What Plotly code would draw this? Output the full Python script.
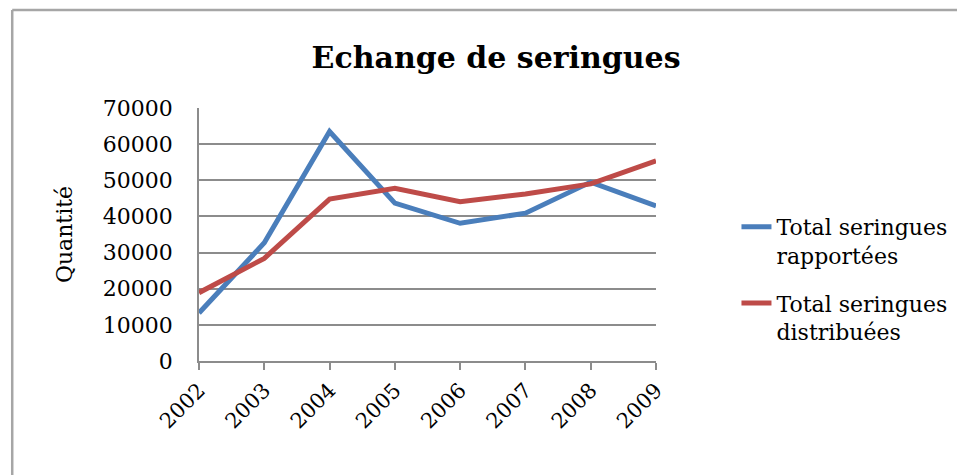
import plotly.graph_objects as go

years = ["2002", "2003", "2004", "2005", "2006", "2007", "2008", "2009"]
rapportees = [13300, 32700, 63500, 43700, 38100, 40900, 49500, 42900]
distribuees = [18900, 28400, 44800, 47800, 44100, 46200, 49000, 55400]
series_names = ["Total seringues<br>rapportées", "Total seringues<br>distribuées"]
y_ticks = [0, 10000, 20000, 30000, 40000, 50000, 60000, 70000]

SERIF = "DejaVu Serif"
GRID = "#8c8c8c"
OFF = 8  # page body margin

fig = go.Figure()
fig.add_trace(go.Scatter(x=years, y=rapportees, mode="lines", name=series_names[0],
                         legendgroup="a",
                         line=dict(color="#4a7ebb", width=5)))
fig.add_trace(go.Scatter(x=years, y=distribuees, mode="lines", name=series_names[1],
                         legendgroup="b",
                         line=dict(color="#be4b48", width=5)))

W, H = 965 - OFF, 475 - OFF
L, R, T, B = 199 - OFF, 965 - 659, 108 - OFF, 475 - 361
pw, ph = W - L - R, H - T - B

def px(x):
    return (x - OFF - L) / pw

def py(y):
    return (H - B - (y - OFF)) / ph

fig.update_layout(
    width=W, height=H, autosize=False,
    margin=dict(l=L, r=R, t=T, b=B),
    paper_bgcolor="white", plot_bgcolor="white",
    title=dict(text="<b>Echange de seringues</b>", x=px(498), xref="paper",
               xanchor="center", y=1 - (57 - OFF) / H, yanchor="middle",
               font=dict(family=SERIF, size=30, color="black")),
    font=dict(family=SERIF, color="black"),
    legend=dict(x=px(740), y=py(206), xanchor="left", yanchor="top",
                font=dict(family=SERIF, size=22, color="black"),
                traceorder="grouped", tracegroupgap=16, valign="top",
                bgcolor="rgba(0,0,0,0)"),
    xaxis=dict(type="category", range=[0, len(years) - 1],
               showgrid=False, showline=True, linecolor=GRID, linewidth=1.5,
               ticks="outside", ticklen=7, tickcolor=GRID, tickwidth=1.5,
               tickangle=-45, tickfont=dict(family=SERIF, size=21, color="black"),
               zeroline=False),
    yaxis=dict(range=[0, 70000], tickvals=y_ticks, ticktext=[str(v) for v in y_ticks],
               showgrid=True, gridcolor=GRID, gridwidth=1.5,
               showline=True, linecolor=GRID, linewidth=1.5,
               ticks="", ticklabelstandoff=20, zeroline=False,
               tickfont=dict(family=SERIF, size=22, color="black"),
               title=dict(text="Quantité", standoff=24,
                          font=dict(family=SERIF, size=22, color="black"))),
    shapes=[
        dict(type="line", xref="paper", yref="paper", x0=px(11), x1=px(1000),
             y0=py(10), y1=py(10), line=dict(color="#a6a6a6", width=2.5)),
        dict(type="line", xref="paper", yref="paper", x0=px(11), x1=px(11),
             y0=py(10), y1=py(500), line=dict(color="#a6a6a6", width=2.5)),
    ],
)

fig.write_html("out.html")
